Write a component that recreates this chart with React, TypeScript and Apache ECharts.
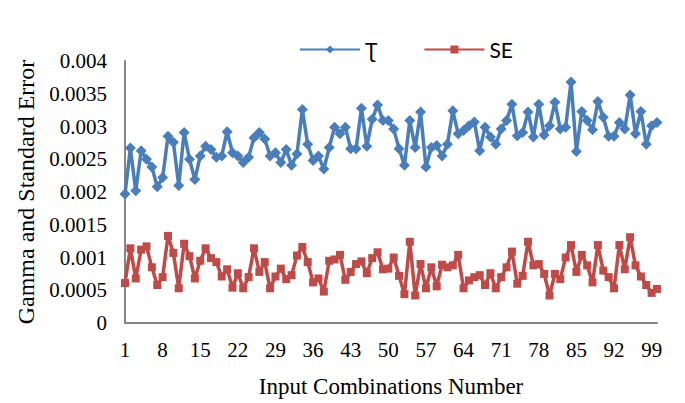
import React, { useEffect, useRef } from "react";
import * as echarts from "echarts";

const categories: string[] = Array.from({ length: 100 }, (_, i) => String(i + 1));

const gammaValues: number[] = [
  0.00197, 0.00267, 0.00202, 0.00263, 0.0025, 0.00238, 0.00208, 0.00222, 0.00285, 0.00276,
  0.0021, 0.00291, 0.0025, 0.00219, 0.00255, 0.0027, 0.00265, 0.00253, 0.00255, 0.00292,
  0.0026, 0.00255, 0.00245, 0.00253, 0.00283, 0.00291, 0.00281, 0.00255, 0.0026, 0.00245,
  0.00265, 0.00241, 0.00258, 0.00326, 0.00273, 0.00248, 0.00255, 0.00235, 0.00268, 0.00299,
  0.00289, 0.00299, 0.00266, 0.00266, 0.00328, 0.0027, 0.00311, 0.00333, 0.00309, 0.00309,
  0.00296, 0.00266, 0.00241, 0.00309, 0.00268, 0.00322, 0.00238, 0.00268, 0.00271, 0.00255,
  0.00273, 0.00324, 0.00289, 0.00294, 0.00301, 0.00307, 0.00263, 0.00299, 0.00284, 0.00273,
  0.00296, 0.00309, 0.00334, 0.00286, 0.00291, 0.00322, 0.00284, 0.00334, 0.00287, 0.00301,
  0.00337, 0.00296, 0.00299, 0.00368, 0.00262, 0.00323, 0.00309, 0.00295, 0.00338, 0.00314,
  0.00285, 0.00285, 0.00306, 0.00296, 0.00348, 0.00289, 0.00323, 0.00273, 0.00301, 0.00306,
];

const seValues: number[] = [
  0.00061, 0.00114, 0.00068, 0.00112, 0.00117, 0.00085, 0.00058, 0.0007, 0.00133, 0.00107,
  0.00053, 0.00121, 0.00102, 0.00068, 0.00095, 0.00114, 0.00099, 0.00093, 0.00071, 0.00082,
  0.00054, 0.00076, 0.00053, 0.0007, 0.00114, 0.00078, 0.00093, 0.00053, 0.00071, 0.00083,
  0.00067, 0.00073, 0.00103, 0.00116, 0.00093, 0.00062, 0.00068, 0.00048, 0.00095, 0.00097,
  0.00104, 0.00066, 0.00078, 0.0009, 0.00094, 0.00076, 0.00099, 0.00108, 0.00082, 0.00083,
  0.001, 0.00072, 0.00044, 0.00124, 0.00042, 0.0009, 0.00053, 0.00085, 0.00056, 0.00089,
  0.00085, 0.00088, 0.00104, 0.00053, 0.00065, 0.0007, 0.00073, 0.00058, 0.00076, 0.00053,
  0.0007, 0.00085, 0.00109, 0.0006, 0.00072, 0.00124, 0.00088, 0.0009, 0.00075, 0.00042,
  0.00075, 0.00067, 0.001, 0.00119, 0.00078, 0.00104, 0.00088, 0.00062, 0.00119, 0.0008,
  0.0007, 0.00053, 0.00119, 0.00082, 0.00131, 0.00088, 0.00071, 0.00058, 0.00046, 0.00052,
];

const yTickLabels: string[] = ["0", "0.0005", "0.001", "0.0015", "0.002", "0.0025", "0.003", "0.0035", "0.004"];

const seriesNames: string[] = ["\u01AE", "SE"];

export default function App() {
  const ref = useRef<HTMLDivElement>(null);
  useEffect(() => {
    if (!ref.current) return;
    const chart = echarts.init(ref.current, undefined, { renderer: "svg" });
    const serif = "'Liberation Serif', 'Times New Roman', serif";
    chart.setOption({
      animation: false,
      backgroundColor: "#ffffff",
      grid: { left: 125, right: 28, top: 61, bottom: 79, containLabel: false },
      legend: {
        left: 294,
        top: 34,
        itemWidth: 60,
        itemHeight: 10,
        itemGap: 46,
        textStyle: { fontFamily: "Lato, 'DejaVu Sans', sans-serif", fontSize: 21, color: "#000" },
        data: seriesNames,
      },
      xAxis: {
        type: "category",
        data: categories,
        boundaryGap: false,
        name: "Input Combinations Number",
        nameLocation: "middle",
        nameGap: 52,
        nameTextStyle: { fontFamily: serif, fontSize: 23, color: "#000" },
        axisLine: { lineStyle: { color: "#868686", width: 2 } },
        axisTick: { show: false },
        axisLabel: {
          interval: 6,
          margin: 16,
          fontFamily: serif,
          fontSize: 21,
          color: "#000",
        },
        splitLine: { show: false },
      },
      yAxis: {
        type: "value",
        min: 0,
        max: 0.004,
        interval: 0.0005,
        name: "Gamma and Standard Error",
        nameLocation: "middle",
        nameGap: 83,
        nameRotate: 90,
        nameTextStyle: { fontFamily: serif, fontSize: 24, color: "#000" },
        axisLine: { show: true, lineStyle: { color: "#868686", width: 2 } },
        axisTick: { show: false },
        splitLine: { show: false },
        axisLabel: {
          margin: 18,
          fontFamily: serif,
          fontSize: 21,
          color: "#000",
          formatter: (v: number) => {
            const idx = Math.round(v / 0.0005);
            return yTickLabels[idx] ?? String(v);
          },
        },
      },
      series: [
        {
          name: seriesNames[0],
          type: "line",
          data: gammaValues,
          symbol: "diamond",
          symbolSize: 11,
          showAllSymbol: true,
          itemStyle: { color: "#4A7EBB" },
          lineStyle: { color: "#4A7EBB", width: 3.5 },
        },
        {
          name: seriesNames[1],
          type: "line",
          data: seValues,
          symbol: "rect",
          symbolSize: 8,
          showAllSymbol: true,
          itemStyle: { color: "#BE4B48" },
          lineStyle: { color: "#BE4B48", width: 3.5 },
        },
      ],
    });
    return () => chart.dispose();
  }, []);
  return (
    <div
      style={{
        position: "fixed",
        left: 0,
        top: 0,
        width: 685,
        height: 403,
        boxSizing: "border-box",
        border: "2px solid #8c8c8c",
        background: "#fff",
      }}
    >
      <div ref={ref} style={{ position: "absolute", left: -2, top: -2, width: 685, height: 403 }} />
    </div>
  );
}
